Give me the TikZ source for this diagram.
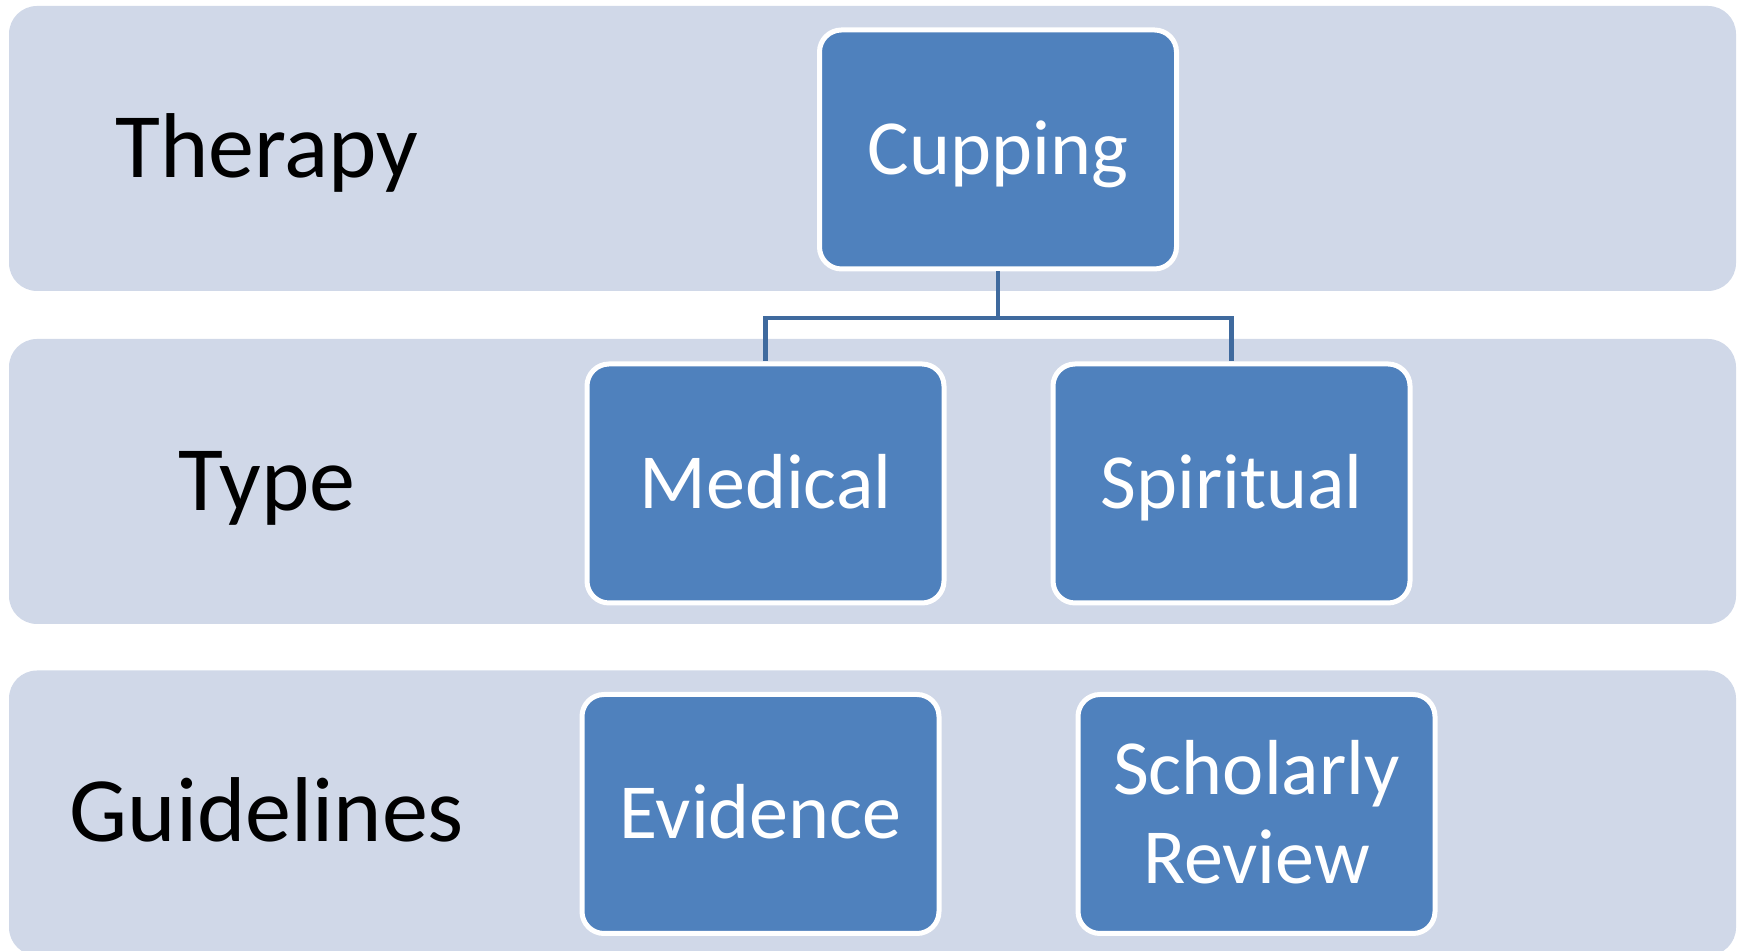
\documentclass[tikz,border=0pt]{standalone}
\usepackage{fontspec}
\setmainfont{Carlito}
\definecolor{bandgray}{HTML}{D0D8E8}
\definecolor{boxblue}{HTML}{4F81BD}
\definecolor{linkblue}{HTML}{3F6A9E}

\begin{document}
\begin{tikzpicture}[
  band/.style={fill=bandgray, rounded corners=0.28cm, minimum width=17.27cm, minimum height=2.85cm, inner sep=0pt},
  lbl/.style={anchor=base, font=\fontsize{26.2}{31}\selectfont},
  tbox/.style={draw=white, line width=0.05cm, fill=boxblue, rounded corners=0.22cm,
    minimum width=3.57cm, minimum height=2.39cm, inner sep=0pt, text=white, align=center,
    text height=0.5cm, text depth=0cm, font=\fontsize{22.2}{25.3}\selectfont},
  link/.style={draw=linkblue, line width=0.045cm}]
\useasboundingbox (0,0) rectangle (17.43,-9.51);
% Bands
\node[band] (therapyband) at (8.725,-1.485) {};
\node[band] (typeband) at (8.725,-4.815) {};
\node[band] (guideband) at (8.725,-8.13) {};

% Row labels
\node[lbl] (therapy) at (2.67,-1.775) {Therapy};
\node[lbl] (type) at (2.67,-5.11) {Type};
\node[lbl] (guide) at (2.67,-8.42) {Guidelines};

% Boxes
\node[tbox] (cup) at (9.98,-1.495) {Cupping};
\node[tbox] (med) at (7.655,-4.835) {Medical};
\node[tbox] (spi) at (12.315,-4.835) {Spiritual};
\node[tbox] (evi) at (7.605,-8.14) {Evidence};
\node[tbox, text height=1.39cm] (sch) at (12.565,-8.14) {Scholarly\\Review};

% Connectors
\draw[link] (cup.south) -- ++(0,-0.465) coordinate (fork) -| (med.north);
\draw[link] (fork) -| (spi.north);
\end{tikzpicture}
\end{document}
